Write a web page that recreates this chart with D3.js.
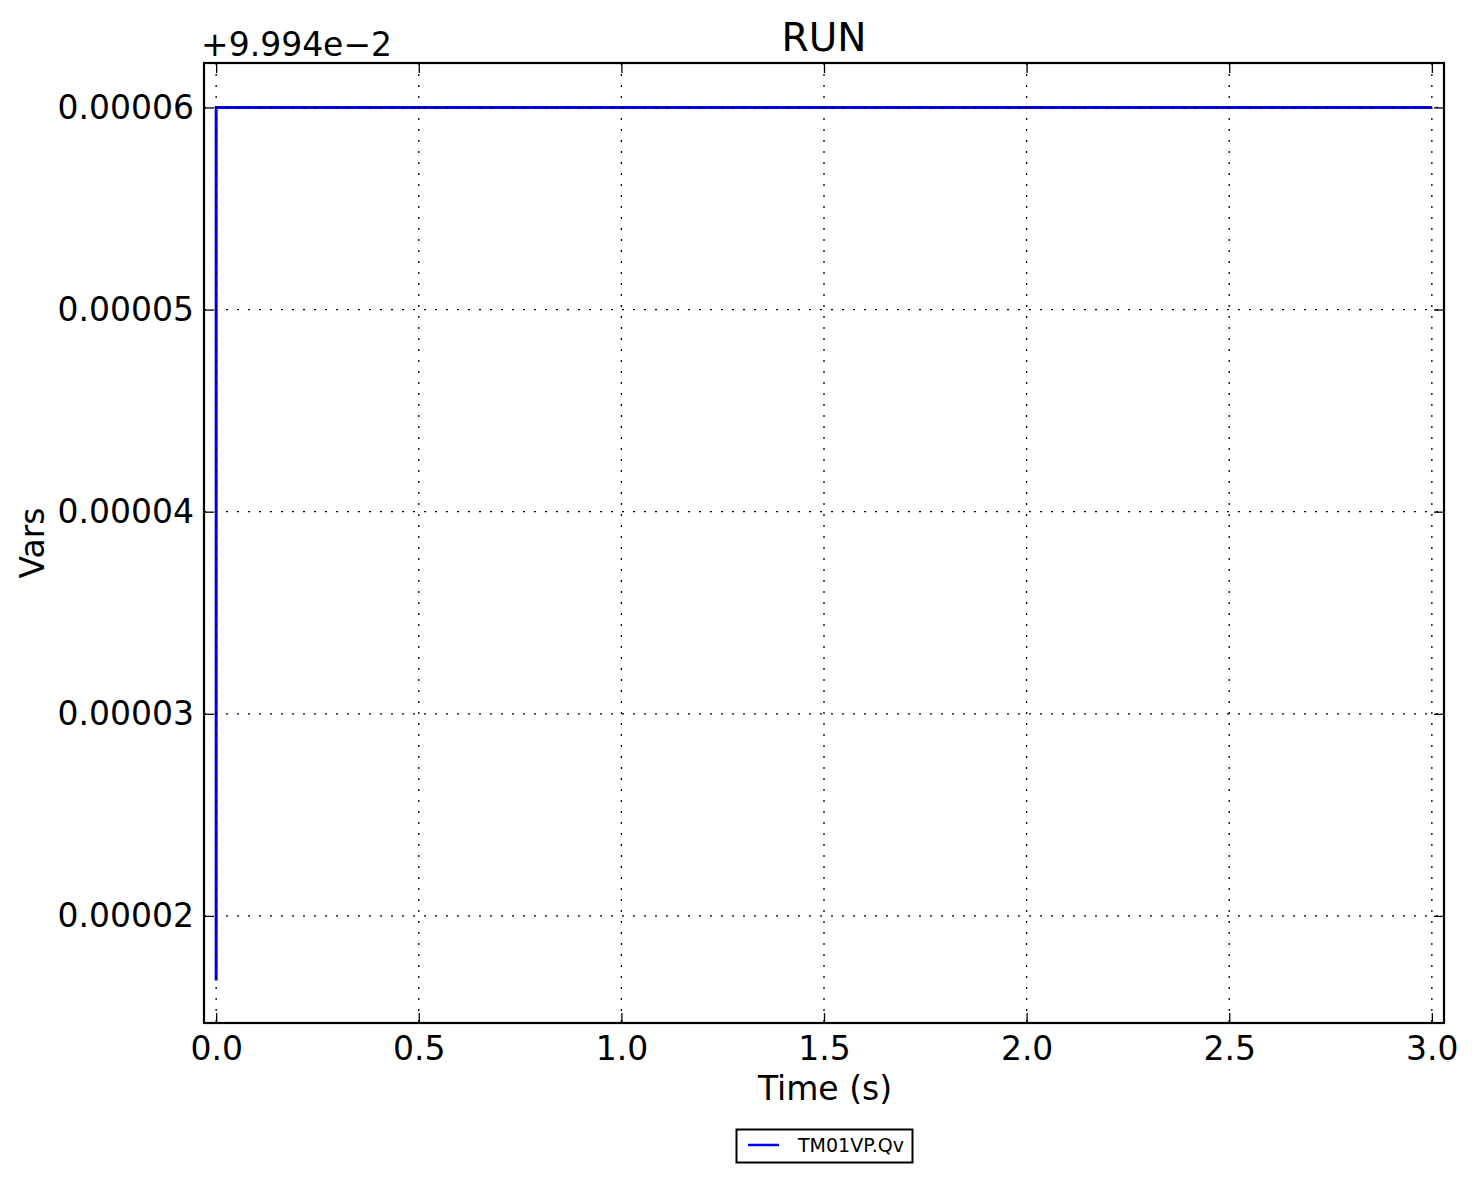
<!DOCTYPE html>
<html>
<head>
<meta charset="utf-8">
<script src="https://cdn.jsdelivr.net/npm/d3@7"></script>
<style>
  body { margin: 0; background: #fff; }
  svg text { font-family: "DejaVu Sans", sans-serif; fill: #000; }
  .tick-label { font-size: 33px; }
  .grid line { stroke: #000; stroke-width: 1.3; stroke-dasharray: 2, 9; }
</style>
</head>
<body>
<svg width="1476" height="1182"></svg>
<script>
// series (time in s, value in vars)
const times = [0.0, 0.0, 3.0];
const values = [0.0999568, 0.1, 0.1];
const seriesName = 'TM01VP.Qv';

// axis ticks and offset
const xTicks = [0.0, 0.5, 1.0, 1.5, 2.0, 2.5, 3.0];
const yTicks = [0.00002, 0.00003, 0.00004, 0.00005, 0.00006];
const yOffset = 0.09994;
const offsetLabel = '+9.994e\u22122';

const svg = d3.select('svg');
const pL = 204, pR = 1444, pT = 63, pB = 1023;

const x = d3.scaleLinear().domain([-0.03, 3.03]).range([pL, pR]);
const y = d3.scaleLinear().domain([0.0000147, 0.0000622]).range([pB, pT]);

// data line
const line = d3.line()
  .x((d, i) => x(times[i]))
  .y(d => y(d - yOffset));

svg.append('path')
  .datum(values)
  .attr('d', line)
  .attr('fill', 'none')
  .attr('stroke', '#0000ff')
  .attr('stroke-width', 3);

// grid, drawn over the line
const grid = svg.append('g').attr('class', 'grid');
grid.selectAll('.vx')
  .data(xTicks)
  .enter().append('line')
  .attr('x1', d => x(d)).attr('x2', d => x(d))
  .attr('y1', pT).attr('y2', pB);
grid.selectAll('.hy')
  .data(yTicks)
  .enter().append('line')
  .attr('x1', pL).attr('x2', pR)
  .attr('y1', d => y(d)).attr('y2', d => y(d));

// axes with inward ticks
const fmtX = d3.format('.1f');
const fmtY = d => d.toFixed(5);

const tickLen = 10;
const axB = svg.append('g').attr('transform', `translate(0,${pB})`)
  .call(d3.axisBottom(x).tickValues(xTicks).tickFormat(fmtX).tickSizeInner(-tickLen).tickSizeOuter(0).tickPadding(22));
const axT = svg.append('g').attr('transform', `translate(0,${pT})`)
  .call(d3.axisTop(x).tickValues(xTicks).tickFormat('').tickSizeInner(-tickLen).tickSizeOuter(0));
const axL = svg.append('g').attr('transform', `translate(${pL},0)`)
  .call(d3.axisLeft(y).tickValues(yTicks).tickFormat(fmtY).tickSizeInner(-tickLen).tickSizeOuter(0).tickPadding(22));
const axR = svg.append('g').attr('transform', `translate(${pR},0)`)
  .call(d3.axisRight(y).tickValues(yTicks).tickFormat('').tickSizeInner(-tickLen).tickSizeOuter(0));

[axB, axT, axL, axR].forEach(a => {
  a.attr('font-family', null).attr('font-size', null);
  a.select('.domain').remove();
  a.selectAll('.tick line').attr('stroke', '#000').attr('stroke-width', 1.3);
  a.selectAll('text').attr('class', 'tick-label').attr('fill', '#000');
});
axB.selectAll('text').attr('dy', '0.71em').attr('y', 14);
axL.selectAll('text').attr('x', -10);

// frame
svg.append('rect')
  .attr('x', pL).attr('y', pT)
  .attr('width', pR - pL).attr('height', pB - pT)
  .attr('fill', 'none').attr('stroke', '#000').attr('stroke-width', 2.2);

// texts
svg.append('text').attr('x', (pL + pR) / 2).attr('y', 51)
  .attr('text-anchor', 'middle').attr('font-size', 39).text('RUN');
svg.append('text').attr('x', 201).attr('y', 56)
  .attr('font-size', 33).text(offsetLabel);
svg.append('text').attr('x', (pL + pR) / 2 + 1).attr('y', 1100)
  .attr('text-anchor', 'middle').attr('font-size', 33).text('Time (s)');
svg.append('text')
  .attr('transform', `translate(44,${(pT + pB) / 2}) rotate(-90)`)
  .attr('text-anchor', 'middle').attr('font-size', 33).text('Vars');

// legend
const lg = svg.append('g');
lg.append('rect').attr('x', 736.5).attr('y', 1129.5).attr('width', 176).attr('height', 33)
  .attr('fill', '#fff').attr('stroke', '#000').attr('stroke-width', 2);
lg.append('line').attr('x1', 748).attr('x2', 779).attr('y1', 1145).attr('y2', 1145)
  .attr('stroke', '#0000ff').attr('stroke-width', 2.5);
lg.append('text').attr('x', 798).attr('y', 1152).attr('font-size', 19).text(seriesName);
</script>
</body>
</html>
